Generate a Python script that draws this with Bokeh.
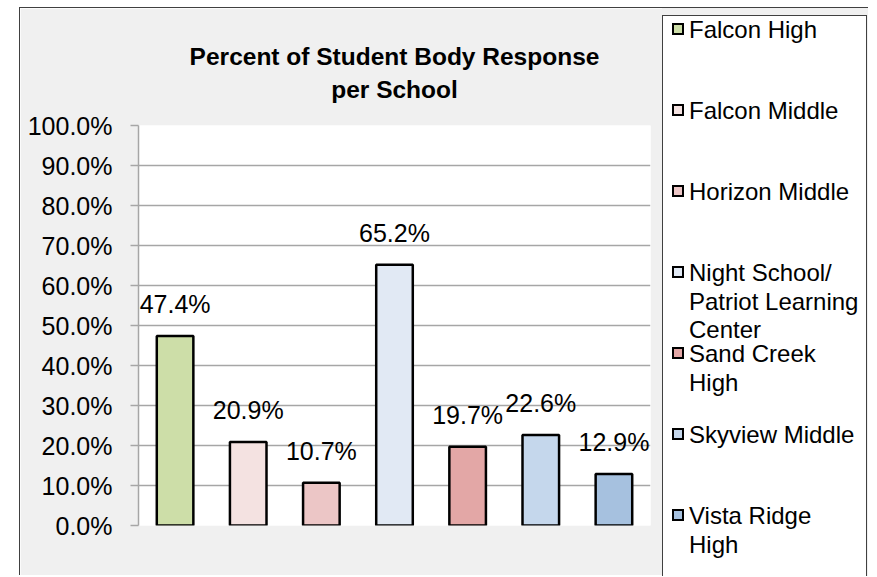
from bokeh.plotting import figure
from bokeh.models import (ColumnDataSource, FactorRange, Range1d, PrintfTickFormatter,
                          FixedTicker, Spacer, Div, Title)
from bokeh.layouts import row, column
from bokeh.core.properties import value
from bokeh.embed import file_html
from bokeh.resources import INLINE
import html

# ---- data ----
schools = ["Falcon High", "Falcon Middle", "Horizon Middle",
           "Night School/ Patriot Learning Center", "Sand Creek High",
           "Skyview Middle", "Vista Ridge High"]
legend_labels = ["Falcon High", "Falcon Middle", "Horizon Middle",
                 "Night School/\nPatriot Learning\nCenter", "Sand Creek\nHigh",
                 "Skyview Middle", "Vista Ridge\nHigh"]
percent = [47.4, 20.9, 10.7, 65.2, 19.7, 22.6, 12.9]
colors = ["#cddea8", "#f4e2e1", "#ecc6c6", "#e1e9f4", "#e3a7a6", "#c5d7ec", "#a6c1df"]
title_lines = ["Percent of Student Body Response", "per School"]
y_ticks = [0, 10, 20, 30, 40, 50, 60, 70, 80, 90, 100]

FONT_NAME = "Liberation Sans"
GRID = "#a6a6a6"
BG = "#f0f0f0"
EDGE = "#404040"

TOP, LEFT = 7, 19          # page offset of the chart block
PW, H = 643, 568           # main figure canvas size (plus a 1px css border left/top)
LW = 206                   # legend column width

# ---- main chart ----
p = figure(x_range=FactorRange(*schools), y_range=Range1d(0, 100),
           width=PW, height=H, output_backend="svg", toolbar_location=None,
           min_border_left=118, min_border_right=13, min_border_top=117,
           min_border_bottom=51)
p.title.visible = False
p.background_fill_color = "white"
p.border_fill_color = BG
p.outline_line_color = None
p.styles = {"border-left": f"1px solid {EDGE}", "border-top": f"1px solid {EDGE}"}

# two centred title lines, lifted off the plot area by a small empty spacer title
p.add_layout(Title(text=" ", text_font_size="10px", standoff=7.5), "above")
for line in reversed(title_lines):
    p.add_layout(Title(text=line, align="center", text_font=FONT_NAME,
                       text_font_size="24.5px", text_font_style="bold",
                       text_color="black", standoff=4), "above")

src = ColumnDataSource(dict(school=schools, pct=percent, color=colors,
                            label=[f"{v:.1f}%" for v in percent]))
p.vbar(x="school", top="pct", width=0.5, source=src, fill_color="color",
       line_color="black", line_width=2.5)
p.text(x="school", y="pct", text="label", source=src, text_align="center",
       text_baseline="alphabetic", y_offset=-32, text_font=value(FONT_NAME),
       text_font_size="25px", text_color="black")

p.xaxis.visible = False
p.xgrid.grid_line_color = None
p.ygrid.grid_line_color = GRID
p.ygrid.grid_line_width = 1.5
p.yaxis.ticker = FixedTicker(ticks=y_ticks)
p.yaxis.formatter = PrintfTickFormatter(format="%.1f%%")
p.yaxis.major_label_text_font = FONT_NAME
p.yaxis.major_label_text_font_size = "25px"
p.yaxis.major_label_text_color = "black"
p.yaxis.axis_line_color = GRID
p.yaxis.axis_line_width = 1.5
p.yaxis.major_tick_line_color = GRID
p.yaxis.major_tick_line_width = 1.5
p.yaxis.major_tick_in = 0
p.yaxis.major_tick_out = 8
p.yaxis.minor_tick_line_color = None
p.yaxis.major_label_standoff = 18

# ---- legend column (boxed key list, one 81px slot per school) ----
SLOT0, SLOT, LINE = 29, 81, 28.5   # page y of first slot centre, slot pitch, line pitch
BOX_X, BOX_Y = 663, 14             # page position of the legend box
IN_X, IN_Y = BOX_X + 1, BOX_Y + 1  # inner origin (inside the 1px border)
parts = []
for i, (lab, col) in enumerate(zip(legend_labels, colors)):
    slot = SLOT0 + SLOT * i
    parts.append(
        f'<div style="position:absolute;left:{673 - IN_X}px;top:{slot - 7.5 - IN_Y:.1f}px;'
        f'width:12px;height:12px;box-sizing:border-box;border:2px solid #000;'
        f'background:{col};"></div>')
    parts.append(
        f'<div style="position:absolute;left:{690 - IN_X}px;top:{slot - 13.6 - IN_Y:.1f}px;'
        f'white-space:pre;font-family:\'{FONT_NAME}\';font-size:24px;'
        f'line-height:{LINE}px;color:#000;">{html.escape(lab)}</div>')
legend_html = (
    f'<div style="position:relative;width:{LW}px;height:{H + 1}px;overflow:hidden;'
    f'background:{BG};box-sizing:border-box;border-top:1px solid {EDGE};">'
    f'<div style="position:absolute;left:0px;top:{BOX_Y - TOP}px;'
    f'width:205px;height:{H + 40}px;box-sizing:border-box;background:#fff;'
    f'border:1px solid {EDGE};">'
    + "".join(parts) + '</div></div>')
legend = Div(text=legend_html, width=LW, height=H + 1, margin=0)

layout = column(Spacer(width=869, height=TOP),
                row(Spacer(width=LEFT, height=H + 1), p, legend))
open("out.html", "w").write(file_html(layout, INLINE))
